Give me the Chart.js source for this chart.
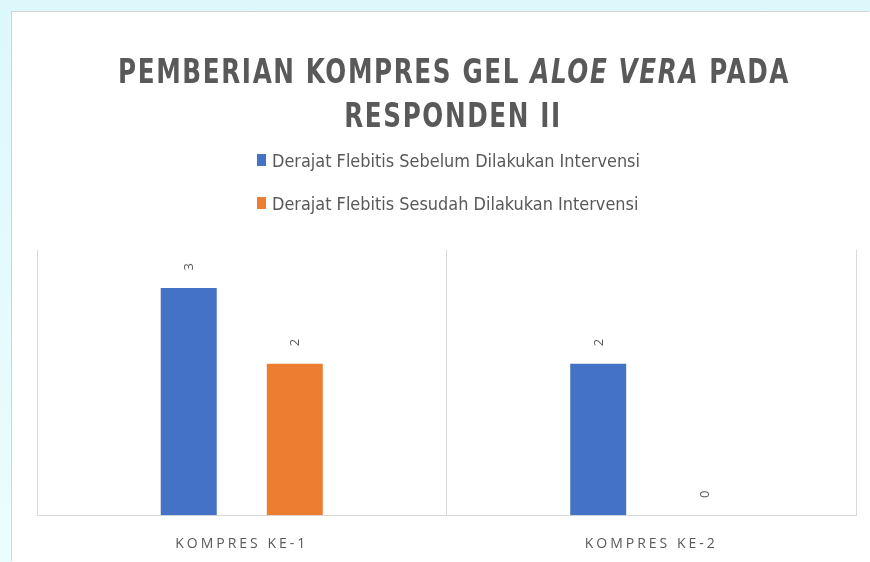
<!DOCTYPE html>
<html>
<head>
<meta charset="utf-8">
<script src="https://cdn.jsdelivr.net/npm/chart.js@4.4.1/dist/chart.umd.min.js"></script>
<style>
html,body{margin:0;padding:0;}
body{width:870px;height:562px;overflow:hidden;position:relative;background:linear-gradient(180deg,#dcf8fb,#ecfdfe);}
#panel{position:absolute;left:12px;top:12px;width:858px;height:550px;background:#fff;box-shadow:-1px -1px 0 #d4d4d4;}
</style>
</head>
<body>
<div id="panel"><canvas id="chart" width="858" height="550"></canvas></div>
<script>
// Data
const categories=['KOMPRES KE-1','KOMPRES KE-2'];
const seriesNames=['Derajat Flebitis Sebelum Dilakukan Intervensi','Derajat Flebitis Sesudah Dilakukan Intervensi'];
const sebelum=[3,2];
const sesudah=[2,0];
const seriesColors=['#4472C4','#ED7D31'];
// title parts: [text, italic]
const titleLine1=[['PEMBERIAN KOMPRES GEL ',false],['ALOE VERA',true],[' PADA',false]];
const titleLine2=[['RESPONDEN II',false]];

const textGray='#595959';

// draw a line of mixed text, squeezed by scale s
function measureParts(ctx,parts,font){
  let w=0;
  parts.forEach(p=>{ctx.font=(p[1]?'italic ':'')+font; p.w=ctx.measureText(p[0]).width; w+=p.w;});
  return w;
}
function drawParts(ctx,parts,font,x,y,s){
  ctx.save(); ctx.translate(x,y); ctx.scale(s,1);
  let cx=0;
  parts.forEach(p=>{ctx.font=(p[1]?'italic ':'')+font; ctx.fillText(p[0],cx,0); cx+=p.w;});
  ctx.restore();
}

// Title + vertical legend
const header={
  id:'header',
  beforeDraw(chart){ chart.ctx.letterSpacing='3px'; },
  beforeDatasetsDraw(chart){ chart.ctx.letterSpacing='0px'; },
  afterDraw(chart){
    const ctx=chart.ctx;
    ctx.save();
    ctx.fillStyle=textGray; ctx.textBaseline='alphabetic'; ctx.textAlign='left';
    ctx.letterSpacing='2px';
    const tFont='bold 34px "Liberation Sans Narrow", "DejaVu Sans Condensed", "Open Sans", sans-serif';
    const w1=measureParts(ctx,titleLine1,tFont);
    const w2=measureParts(ctx,titleLine2,tFont);
    const s=Math.min(1,672/w1);
    drawParts(ctx,titleLine1,tFont,442-w1*s/2,71,s);
    drawParts(ctx,titleLine2,tFont,441-w2*s/2,115,s);

    ctx.letterSpacing='0px';
    const lFont='17px "Liberation Sans Narrow", "DejaVu Sans Condensed", "Open Sans", sans-serif';
    const rows=seriesNames.map(n=>[[n,false]]);
    const lw=measureParts(ctx,rows[0],lFont);
    measureParts(ctx,rows[1],lFont);
    const ls=368/lw;
    rows.forEach((r,i)=>{
      const y=155+i*43;
      ctx.fillStyle=seriesColors[i];
      ctx.fillRect(245,y-13,9,12);
      ctx.fillStyle=textGray;
      drawParts(ctx,r,lFont,260,y,ls);
    });
    ctx.restore();
  }
};

// rotated value labels above bars
const valueLabels={
  id:'valueLabels',
  afterDatasetsDraw(chart){
    const ctx=chart.ctx;
    ctx.save();
    ctx.letterSpacing='0px';
    ctx.fillStyle=textGray;
    ctx.font='13px "Open Sans", sans-serif';
    ctx.textAlign='center'; ctx.textBaseline='middle';
    chart.data.datasets.forEach((ds,i)=>{
      chart.getDatasetMeta(i).data.forEach((bar,j)=>{
        ctx.save();
        ctx.translate(bar.x+1,bar.y-21);
        ctx.rotate(-Math.PI/2);
        ctx.fillText(String(ds.data[j]),0,0);
        ctx.restore();
      });
    });
    ctx.restore();
  }
};

new Chart(document.getElementById('chart').getContext('2d'),{
  type:'bar',
  data:{
    labels:categories,
    datasets:[
      {label:seriesNames[0],data:sebelum,backgroundColor:seriesColors[0]},
      {label:seriesNames[1],data:sesudah,backgroundColor:seriesColors[1]}
    ]
  },
  options:{
    responsive:false,
    animation:false,
    categoryPercentage:0.518,
    barPercentage:0.528,
    layout:{padding:{top:238,left:25,right:14,bottom:-10}},
    plugins:{legend:{display:false},title:{display:false},tooltip:{enabled:false}},
    scales:{
      x:{
        grid:{offset:true,color:'#d9d9d9',drawTicks:false},
        border:{color:'#d9d9d9'},
        ticks:{color:textGray,padding:20,font:{family:'"Open Sans", sans-serif',size:14}}
      },
      y:{display:false,min:0,max:3.5}
    }
  },
  plugins:[header,valueLabels]
});
</script>
</body>
</html>
